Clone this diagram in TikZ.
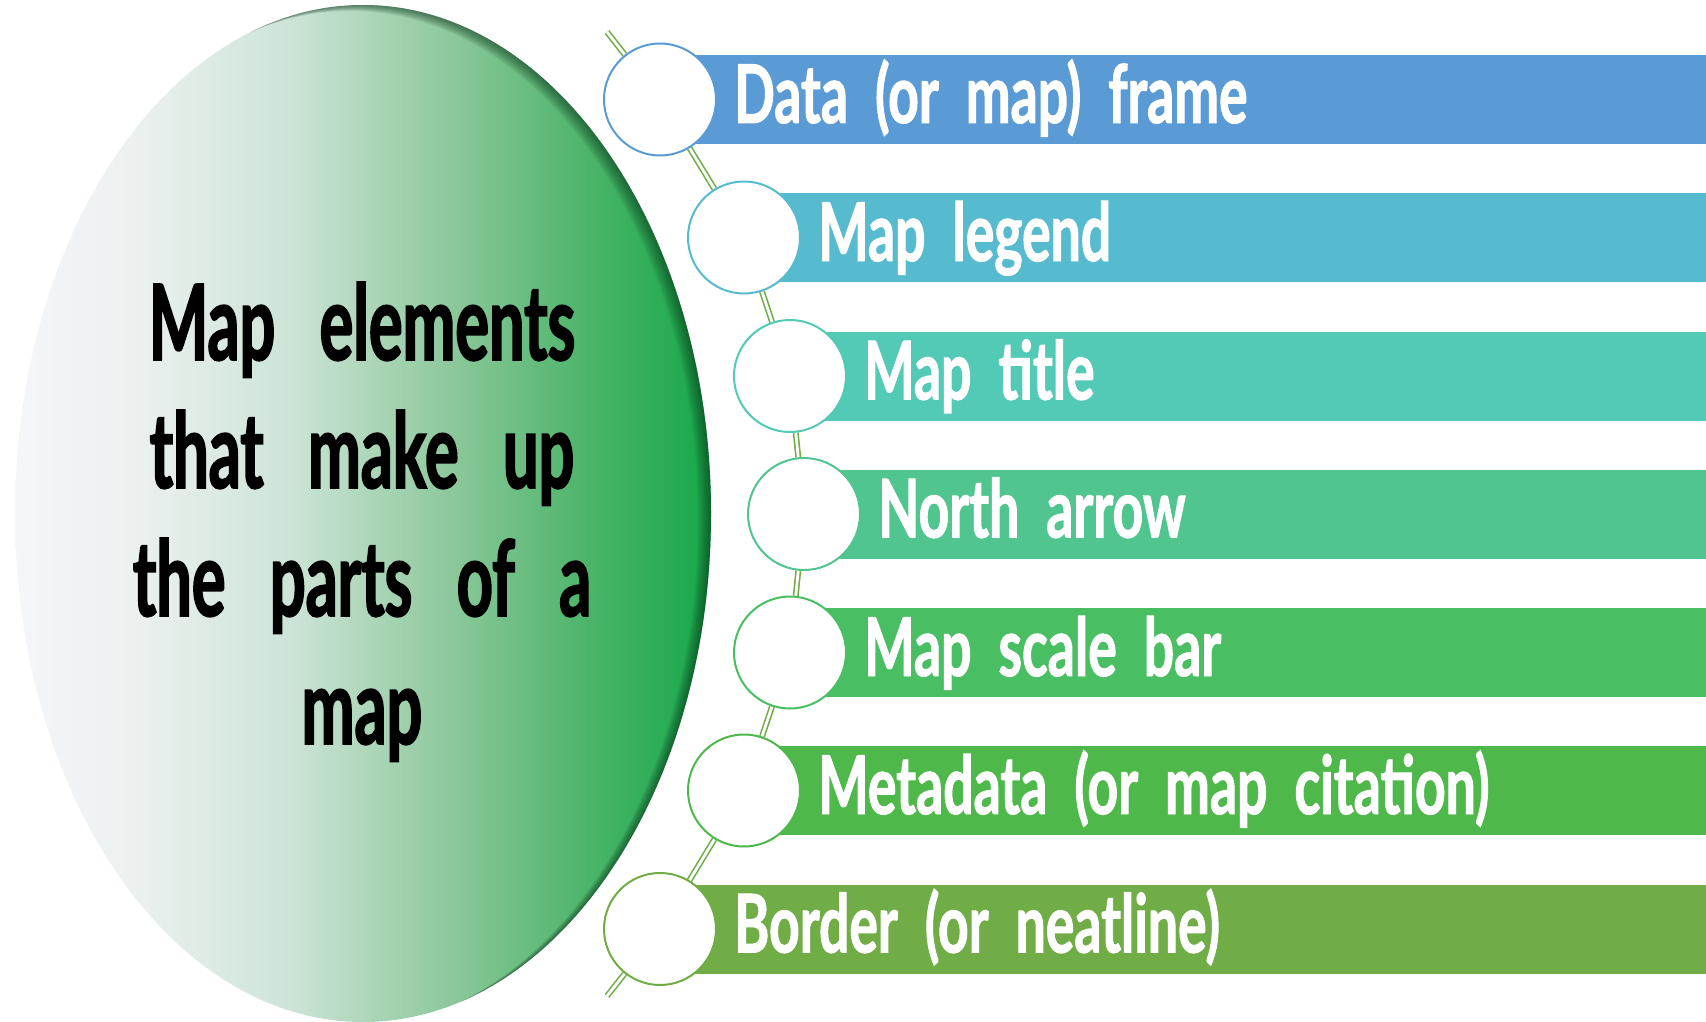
\documentclass[tikz,border=0pt]{standalone}
\usepackage{fontspec}
\newfontfamily\barfont[FakeStretch=0.66, WordSpace=2.6, FakeBold=1.2]{Lato}
\newfontfamily\hubfont[FakeStretch=0.6, WordSpace=2.9, FakeBold=1.6]{Lato}
\usetikzlibrary{backgrounds}

\definecolor{barA}{RGB}{91,155,213}
\definecolor{barB}{RGB}{87,187,207}
\definecolor{barC}{RGB}{82,202,182}
\definecolor{barD}{RGB}{80,197,143}
\definecolor{barE}{RGB}{74,190,98}
\definecolor{barF}{RGB}{78,184,74}
\definecolor{barG}{RGB}{112,173,71}
\definecolor{linkgreen}{RGB}{112,173,71}
\definecolor{hubshadow}{RGB}{10,50,25}
\definecolor{h0}{RGB}{244,246,250}
\definecolor{h1}{RGB}{236,241,240}
\definecolor{h2}{RGB}{205,228,215}
\definecolor{h3}{RGB}{140,200,155}
\definecolor{h4}{RGB}{75,180,105}
\definecolor{h5}{RGB}{22,168,74}
\pgfdeclarehorizontalshading{hubshade}{100bp}{color(0bp)=(h0); color(25bp)=(h0);
  color(33.3bp)=(h1); color(44.8bp)=(h2); color(56.3bp)=(h3); color(66.3bp)=(h4);
  color(75bp)=(h5); color(100bp)=(h5)}

\begin{document}
\begin{tikzpicture}[x=1pt,y=-1pt,
  bar/.style={fill=#1, anchor=west, inner xsep=74pt, inner ysep=0pt,
    text height=68pt, text depth=21pt, align=left, text=white,
    font=\barfont\bfseries\fontsize{81}{90}\selectfont},
  dot/.style={circle, draw=#1, line width=2pt, fill=white, minimum size=112pt, inner sep=0pt},
  link/.style={draw=linkgreen, line width=1.6pt, double=white, double distance=2.8pt}]
\useasboundingbox (0,0) rectangle (1706,1022);
%
% the big oval on the left
\shade[shading=hubshade] (363,513.5) ellipse [x radius=348pt, y radius=508.5pt];
\begin{scope}
\clip (363,513.5) ellipse [x radius=348pt, y radius=508.5pt];
\foreach \d in {1,...,10}
  \fill[hubshadow, opacity=0.07, even odd rule] (-10,-10) rectangle (1720,1040)
    ({363-1.3*\d},{513.5+0.6*\d}) ellipse [x radius=348pt, y radius=508.5pt];
\end{scope}
\node[font=\hubfont\bfseries\fontsize{105}{128}\selectfont,
  align=center, anchor=base] (hub) at (362,744)
  {Map elements\\that make up\\the parts of a\\map};
%
% bars and their circles
\foreach \i/\cx/\cy/\col/\txt in {1/660/99.5/barA/Data (or map) frame,
  2/744/237.5/barB/Map legend, 3/790/376/barC/Map title,
  4/804/514/barD/North arrow, 5/790/652.5/barE/Map scale bar,
  6/744/790.5/barF/Metadata (or map citation), 7/660/929/barG/Border (or neatline)}
{
  \pgfmathsetmacro\tw{1706-\cx-148}
  \node[bar=\col, text width=\tw pt] (b\i) at (\cx,\cy) {\txt};
  \node[dot=\col] (c\i) at (\cx,\cy) {};
}
%
\coordinate (top) at (607,32);
\coordinate (bottom) at (607,996);
\begin{pgfonlayer}{background}
\foreach \a/\b in {top/c1,c1/c2,c2/c3,c3/c4,c4/c5,c5/c6,c6/c7,c7/bottom}
  \draw[link] (\a) -- (\b);
\end{pgfonlayer}
\end{tikzpicture}
\end{document}
